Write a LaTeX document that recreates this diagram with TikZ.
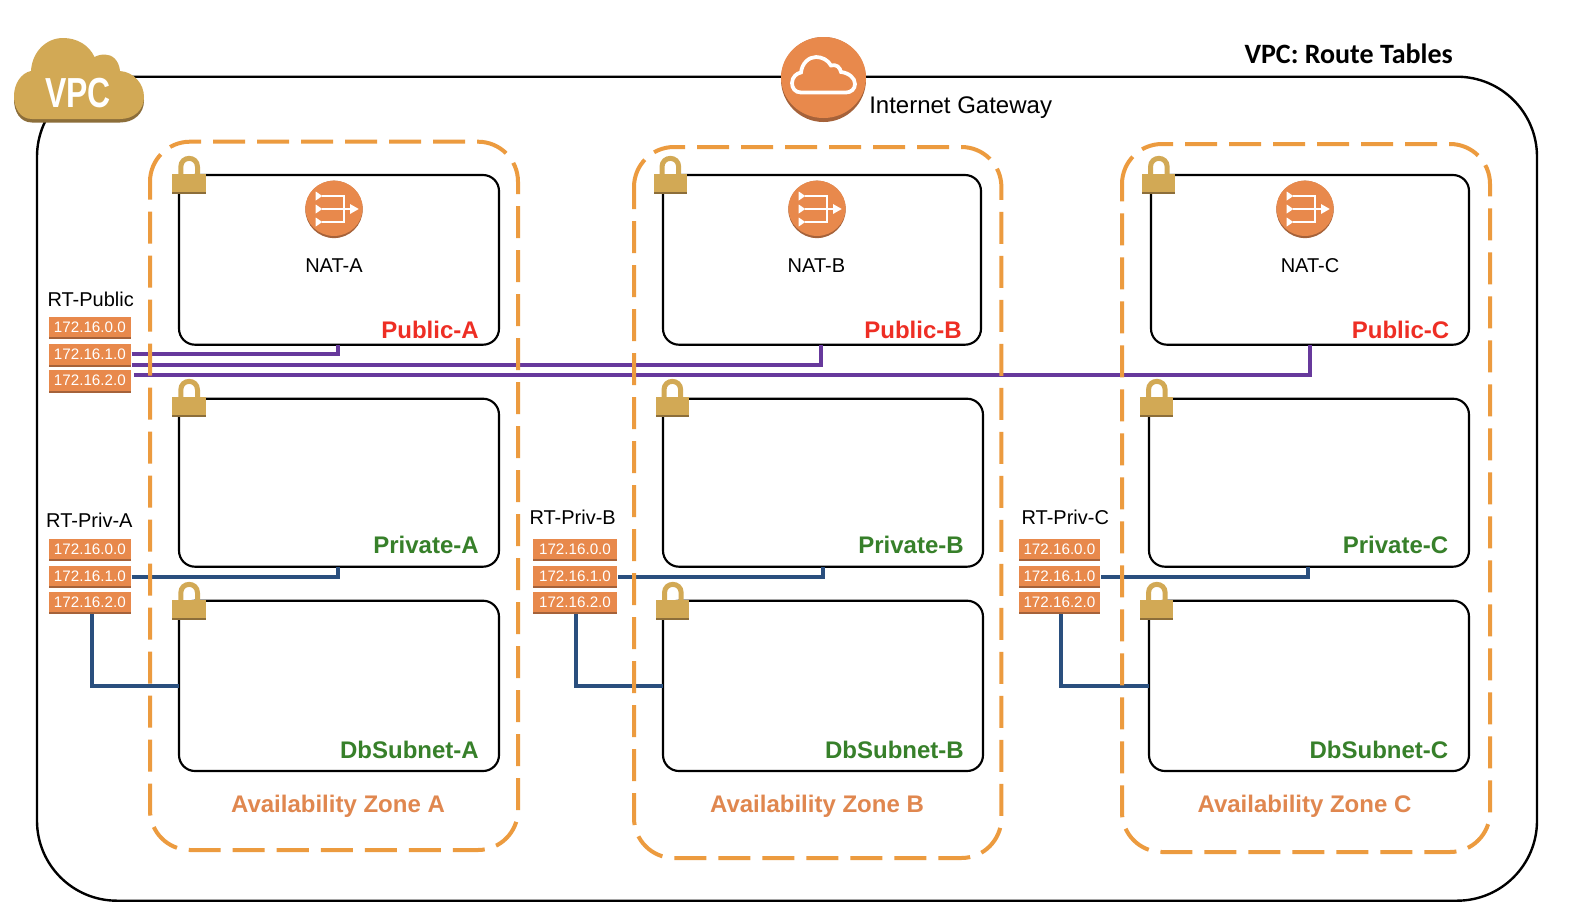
\documentclass[tikz,border=0pt]{standalone}
\usepackage{graphicx}
\usepackage{fontspec}
\setmainfont{Liberation Sans}
\newfontfamily\titlefont{Carlito}
\usetikzlibrary{calc,shapes.geometric}
\definecolor{zoneorange}{HTML}{EC9B3F}
\definecolor{awsorange}{HTML}{E8894C}
\definecolor{awsshadow}{HTML}{A5623A}
\definecolor{gold}{HTML}{D2A955}
\definecolor{golddark}{HTML}{8C6E3A}
\definecolor{rtpurple}{HTML}{67399C}
\definecolor{rtblue}{HTML}{2A4F7E}
\definecolor{pubred}{HTML}{EE2E24}
\definecolor{privgreen}{HTML}{37802A}
\definecolor{zonetext}{HTML}{E0874F}
\newcommand\fpx[1]{\pgfmathsetmacro\myfs{#1*0.75}\fontsize{\myfs}{\myfs}\selectfont}
% style, name, x1, y1, x2, y2
\newcommand\boxnode[6]{%
  \pgfmathsetmacro\cxx{(#3+#5)/2}\pgfmathsetmacro\cyy{(#4+#6)/2}%
  \pgfmathsetmacro\ww{(#5-#3)*0.75}\pgfmathsetmacro\hh{(#6-#4)*0.75}%
  \node[#1,minimum width=\ww pt,minimum height=\hh pt] (#2) at (\cxx,\cyy) {};}
% name, x1, y1, x2, y2, text
\newcommand\rtag[6]{%
  \pgfmathsetmacro\cxx{(#2+#4)/2}\pgfmathsetmacro\cyy{(#3+#5)/2}%
  \pgfmathsetmacro\ww{(#4-#2)*0.75}\pgfmathsetmacro\hh{(#5-#3)*0.75}%
  \node[rttag,minimum width=\ww pt,minimum height=\hh pt] (#1) at (\cxx,\cyy) {#6};
  \fill[awsshadow] (#1.south west) rectangle ($(#1.south east)+(0,2.2)$);}
% x1, y1, x2, y2: path starts at the end of the top-left corner, clockwise
\newcommand\zonepath[4]{%
  \pgfmathsetmacro\ys{#2+42}%
  \draw[zonebox] (#1,\ys) -- (#1,#2) -- (#3,#2) -- (#3,#4) -- (#1,#4) -- (#1,\ys);}
\newcommand\lockat[2]{%
  \begin{scope}[shift={(#1,#2)}]
    \draw[gold,line width=3.75pt] (8.5,2) -- (8.5,-7) .. controls (8.5,-18.5) and (25.2,-18.5) .. (25.2,-7) -- (25.2,2);
    \fill[gold] (0,0) rectangle (33.4,20);
    \fill[golddark] (0,18) rectangle (33.4,20);
  \end{scope}}
\newcommand\natat[3]{%
  \begin{scope}[shift={(#2,#3)}]
    \fill[awsshadow] (0,0.4) circle[radius=28.7];
    \node[ellipse,fill=awsorange,inner sep=0pt,minimum width=43pt,minimum height=41.5pt] (#1) at (0,-0.7) {};
    \draw[white,line width=1.3pt] (-12,-13) -- (9.7,-13) -- (9.7,13) -- (-12,13) (-12,0) -- (17,0);
    \fill[white] (-18.3,-17.5) -- (-11.7,-13) -- (-18.3,-8.5) -- cycle
                 (-18.3,-4.5) -- (-11.7,0) -- (-18.3,4.5) -- cycle
                 (-18.3,8.5) -- (-11.7,13) -- (-18.3,17.5) -- cycle
                 (16,-5) -- (24.7,0) -- (16,5) -- cycle;
  \end{scope}}
\newcommand\vpccloud{(32,119) .. controls (20,119) and (14,108) .. (14,96) .. controls (14,84) and (21,73) .. (31,71) .. controls (32,52) and (46,38) .. (63,38) .. controls (77,38) and (89,45) .. (94.5,57) .. controls (98,55) and (102,54.5) .. (105,54.5) .. controls (112,54.5) and (119,60) .. (120,71) .. controls (134,72) and (144,84) .. (144,97) .. controls (144,110) and (134,119) .. (120,119) -- cycle}
\tikzset{
  vpcbox/.style={draw=black,line width=1.8pt,rounded corners=60pt,inner sep=0pt,outer sep=0pt},
  subnet/.style={draw=black,line width=1.6pt,rounded corners=12pt,inner sep=0pt,outer sep=0pt},
  zonebox/.style={draw=zoneorange,line width=3pt,rounded corners=30pt,dash pattern=on 24pt off 9pt},
  rttag/.style={fill=awsorange,text=white,inner sep=0pt,outer sep=0pt,font=\fpx{15.2}},
  pubrt/.style={draw=rtpurple,line width=3.2pt},
  prvrt/.style={draw=rtblue,line width=3.2pt},
  plain/.style={inner sep=0pt,outer sep=0pt,font=\fpx{20}},
  publabel/.style={inner sep=0pt,anchor=base east,text=pubred,font=\fpx{24}\bfseries},
  prvlabel/.style={inner sep=0pt,anchor=base east,text=privgreen,font=\fpx{24}\bfseries},
  zonelabel/.style={inner sep=0pt,anchor=base,text=zonetext,font=\fpx{24}\bfseries},
}
\begin{document}
\begin{tikzpicture}[x=0.75pt,y=-0.75pt]
\useasboundingbox (0,0) rectangle (1582,918);
\fill[white] (0,0) rectangle (1582,918);
% VPC frame
\boxnode{vpcbox}{vpc}{37}{76.7}{1537}{900.7}
% subnets
\boxnode{subnet}{pubA}{179}{175}{499}{344.7}
\boxnode{subnet}{prvA}{179}{398.7}{499}{566.7}
\boxnode{subnet}{dbA}{179}{600.7}{499}{771}
\boxnode{subnet}{pubB}{663}{175}{981}{344.7}
\boxnode{subnet}{prvB}{663}{398.7}{983}{566.7}
\boxnode{subnet}{dbB}{663}{600.7}{983}{771}
\boxnode{subnet}{pubC}{1151}{175}{1469}{344.7}
\boxnode{subnet}{prvC}{1149}{398.7}{1469}{566.7}
\boxnode{subnet}{dbC}{1149}{600.7}{1469}{771}
% route tables
\rtag{tP1}{49}{317.3}{130.7}{337}{172.16.0.0}
\rtag{tP2}{49}{344}{130.7}{364.5}{172.16.1.0}
\rtag{tP3}{49}{370}{130.7}{391}{172.16.2.0}
\rtag{tA1}{49}{539.3}{130.7}{559}{172.16.0.0}
\rtag{tA2}{49}{566}{130.7}{586}{172.16.1.0}
\rtag{tA3}{49}{592}{130.7}{612}{172.16.2.0}
\rtag{tB1}{533}{539.3}{617}{559}{172.16.0.0}
\rtag{tB2}{533}{566}{617}{586}{172.16.1.0}
\rtag{tB3}{533}{592}{617}{612}{172.16.2.0}
\rtag{tC1}{1018.6}{539.3}{1100.3}{559}{172.16.0.0}
\rtag{tC2}{1018.6}{566}{1100.3}{586}{172.16.1.0}
\rtag{tC3}{1018.6}{592}{1100.3}{612}{172.16.2.0}
% connectors
\draw[pubrt] ([xshift=.75pt]tP2.east) -| ([xshift=-.75pt]pubA.south);
\draw[pubrt] ([xshift=.75pt,yshift=-7.9pt]tP2.east) -| ([xshift=-.75pt]pubB.south);
\draw[pubrt] ([xshift=2.5pt,yshift=4.2pt]tP3.east) -| (pubC.south);
\draw[prvrt] ([xshift=.75pt,yshift=-.75pt]tA2.east) -| ([xshift=-.75pt]prvA.south);
\draw[prvrt] ([xshift=.75pt,yshift=-.75pt]tB2.east) -| (prvB.south);
\draw[prvrt] ([xshift=.75pt,yshift=-.75pt]tC2.east) -| ([xshift=-.75pt]prvC.south);
\draw[prvrt] ([xshift=1.5pt,yshift=-1.5pt]tA3.south) |- (dbA.west);
\draw[prvrt] ([xshift=.75pt,yshift=-1.5pt]tB3.south) |- (dbB.west);
\draw[prvrt] ([xshift=1.1pt,yshift=-1.5pt]tC3.south) |- (dbC.west);
% availability zones
\zonepath{150}{141.7}{518}{850}
\zonepath{634}{147}{1001.4}{858}
\zonepath{1122}{144}{1490}{852}
% locks
\lockat{172.3}{174}\lockat{653.5}{174}\lockat{1142}{174}
\lockat{172.3}{397}\lockat{655.5}{397}\lockat{1140}{397}
\lockat{172.3}{600}\lockat{656}{600}\lockat{1140}{600}
% NAT icons
\natat{natA}{334}{209}\natat{natB}{817}{209}\natat{natC}{1305}{209}
\node[plain,anchor=base] (natAl) at (334,272) {NAT-A};
\node[plain,anchor=base] (natBl) at (816.4,272) {NAT-B};
\node[plain,anchor=base] (natCl) at (1310,272) {NAT-C};
% subnet labels
\node[publabel] (lpA) at (479,338) {Public-A};
\node[publabel] (lpB) at (962,338) {Public-B};
\node[publabel] (lpC) at (1449.5,338) {Public-C};
\node[prvlabel] (lvA) at (479,553.7) {Private-A};
\node[prvlabel] (lvB) at (964,553.7) {Private-B};
\node[prvlabel] (lvC) at (1448.5,553.7) {Private-C};
\node[prvlabel] (ldA) at (479,758) {DbSubnet-A};
\node[prvlabel] (ldB) at (964,758) {DbSubnet-B};
\node[prvlabel] (ldC) at (1448.5,758) {DbSubnet-C};
\node[zonelabel] (lzA) at (338,812) {Availability Zone A};
\node[zonelabel] (lzB) at (817,812) {Availability Zone B};
\node[zonelabel] (lzC) at (1304.5,812) {Availability Zone C};
% route table names
\node[plain,anchor=base west] (rtP) at (47.5,306.7) {RT-Public};
\node[plain,anchor=base west] (rtA) at (46.2,527.7) {RT-Priv-A};
\node[plain,anchor=base west] (rtB) at (529.5,524) {RT-Priv-B};
\node[plain,anchor=base west] (rtC) at (1021.6,524) {RT-Priv-C};
% VPC cloud
\fill[golddark,shift={(0,3.5)}] \vpccloud;
\fill[gold] \vpccloud;
\node[inner sep=0pt,anchor=base,text=white] (vpcl) at (78,107) {\fpx{42}\bfseries\scalebox{.76}[1]{VPC}};
% internet gateway
\fill[awsshadow] (823.5,79.5) circle[radius=42.5];
\node[ellipse,fill=awsorange,inner sep=0pt,minimum width=63.75pt,minimum height=60.75pt] (igw) at (823.5,77.5) {};
\draw[white,line width=2.8pt] (801,92.5) .. controls (795,92.5) and (792,88) .. (792,83) .. controls (792,77) and (797,73) .. (801,72.5) .. controls (802,63) and (809,57) .. (816,57) .. controls (822,57) and (828,60) .. (831,65.5) .. controls (836,64) and (840,67) .. (841,72) .. controls (849,73) and (855,78) .. (855,84) .. controls (855,89) and (851,92.5) .. (846,92.5) -- cycle;
\node[inner sep=0pt,anchor=base west,font=\fpx{24}] (igwl) at (869,113) {Internet Gateway};
% title
\node[inner sep=0pt,anchor=base east,font=\fpx{28}\titlefont\bfseries] (title) at (1453,63) {VPC: Route Tables};
\end{tikzpicture}
\end{document}
